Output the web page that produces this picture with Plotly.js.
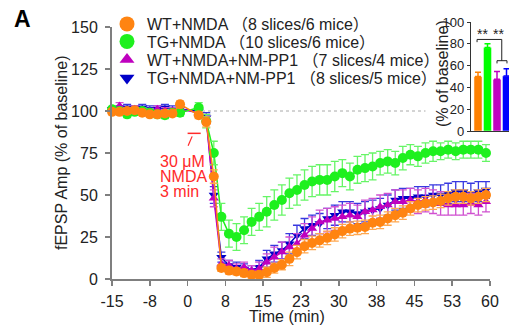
<!DOCTYPE html>
<html><head><meta charset="utf-8">
<script src="https://cdn.plot.ly/plotly-3.0.1.min.js"></script>
<style>html,body{margin:0;padding:0;background:#fff;}#chart{width:509px;height:325px;}</style>
</head><body><div id="chart"></div>
<script>
// ---- data ----
var timePts = [-15,-13.5,-12,-10.5,-9,-7.5,-6,-4.5,-3,-1.5,
  2.2,3.7,5.2,6.7,8.2,9.7,11.2,12.7,14.2,15.7,17.2,18.7,20.2,21.7,23.2,24.7,26.2,27.7,29.2,30.7,
  32.2,33.7,35.2,36.7,38.2,39.7,41.2,42.7,44.2,45.7,47.2,48.7,50.2,51.7,53.2,54.7,56.2,57.7,59.2];

var seriesNames = ['WT+NMDA （8 slices/6 mice）','TG+NMDA （10 slices/6 mice）',
  'WT+NMDA+NM-PP1 （7 slices/4 mice）','TG+NMDA+NM-PP1 （8 slices/5 mice）'];

var wtNmda = [99.5,99.5,100,100.5,99,98,98,98.5,98.5,104,
  97.5,93.5,61,6.5,5,4.5,3.5,2.5,2.5,4,6.5,8.5,12,16,19.5,21.5,23,24.5,26.5,28.5,
  30,30.5,31,33.5,34,36,38,39.5,42,44,45,45.5,46.5,48,49,49,48,49,50];
var wtNmdaErr = [1.5,1.5,1.5,1.5,1.5,1.5,1.5,1.5,1.5,2,
  2,3,4,2,2,2,2,2,2,3,3,3,4,4,4,4,4,4,4,4,4,4,4,4,4,4,4,4,4,4,4,4,4,4,4,4,4,4,4];

var tgNmda = [101,100,98,99.5,100,99,98,97.5,99,99,
  102,94,75,37,27,25,29,34,37,40,44,47,51,53,56,58,59,59,61,63,
  61,65,66,67,69,70,69,72,74,73,75,76,76,77,76,77,77,77,75];
var tgNmdaErr = [2,2,2,2,2,2,2,2,2,2,
  3,4,7,8,8,8,8,8,8,9,9,9,9,9,9,9,9,9,9,8,8,8,8,8,7,7,7,7,6,6,6,6,5,5,5,5,5,5,5];

var wtPP1 = [101,103,100,101,100,99.5,101,100,100,101,
  99,95,48,9,8,6,7,5,6,10,13,16,19,21,26,30,34,35,36,37,
  38,37,40,41,43,44,46,46,47,46,47,46,45,44,44,44,45,44,46];
var wtPP1Err = [2,2,2,2,2,2,2,2,2,2,
  2,3,5,3,3,3,3,3,4,5,6,6,6,6,7,7,7,7,7,7,7,7,7,7,7,7,7,7,7,7,7,7,7,6,6,6,6,6,6];

var tgPP1 = [101,101,102,101,102,101,101,102,101,101,
  100,96,50,13,8,7,6,5,7,12,15,17,21,26,30,32,33,36,38,40,
  40,39,40,41,42,44,47,48,48,49,49,50,50,51,52,52,51,52,53];
var tgPP1Err = [2,2,2,2,2,2,2,2,2,2,
  2,3,5,3,3,3,3,3,4,5,5,5,6,6,6,6,6,6,6,6,6,6,6,6,6,6,6,6,6,6,6,6,6,6,6,6,6,6,5];

var xTickVals = [-15,-7.5,0,7.5,15,22.5,30,37.5,45,52.5,60];
var xTickText = ['-15','-8','0','8','15','23','30','38','45','53','60'];
var yTickVals = [0,25,50,75,100,125,150];

var insetCats = [0,1,2,3];
var insetVals = [50,76.5,47.5,50.5];
var insetErr = [4,3.5,7,6.5];
var insetTicks = [0,20,40,60,80,100];

// ---- styling ----
var FONT = '"Liberation Sans", Arial, "Noto Sans CJK SC", sans-serif';
var cols = ['#ff8411','#1ef01e','#bf00bf','#0000c8'];
var errCols = ['#ffa850','#66f566','#d050d0','#3838e0'];
var barCols = ['#ff8000','#00ff00','#c000c0','#0000ff'];
var symbols = ['circle','circle','triangle-up','triangle-down'];
var sizes = [10,10,9,9];
var legSizes = [15,15,13,13];
var vals = [wtNmda,tgNmda,wtPP1,tgPP1];
var errs = [wtNmdaErr,tgNmdaErr,wtPP1Err,tgPP1Err];
var legendIds = ['legend','legend2','legend3','legend4'];
var legendRowY = [24,41.5,59.5,78];

// pixel helpers (plot paper: l=112, r=0, t=15, b=46)
var L=112, T=15, PW=397, PH=264;
function px(xp){return (xp-L)/PW;}
function py(yp){return (T+PH-yp)/PH;}

var traces = [];
[3,2,1,0].forEach(function(i){
  traces.push({x:timePts, y:vals[i], type:'scatter', mode:'lines', showlegend:false,
    line:{color:cols[i], width:1.5}, hoverinfo:'skip'});
  traces.push({x:timePts, y:vals[i], type:'scatter', mode:'markers', showlegend:false, cliponaxis:false,
    marker:{color:cols[i], symbol:symbols[i], size:sizes[i]},
    error_y:{type:'data', array:errs[i], visible:true, color:errCols[i], thickness:1.3, width:4}});
});
// legend entries (no data points of their own)
[0,1,2,3].forEach(function(i){
  traces.push({x:[null], y:[null], type:'scatter', mode:'markers', name:seriesNames[i],
    legend:legendIds[i], showlegend:true,
    marker:{color:cols[i], symbol:symbols[i], size:legSizes[i]}});
});
traces.push({x:insetCats, y:insetVals, type:'bar', xaxis:'x2', yaxis:'y2', showlegend:false,
  width:0.85, marker:{color:barCols, line:{color:'#fff', width:0.5}}});
insetCats.forEach(function(c,k){
  traces.push({x:[insetCats[k]], y:[insetVals[k]], type:'bar', xaxis:'x2', yaxis:'y2', showlegend:false,
    width:0.85, marker:{color:'rgba(0,0,0,0)'}, hoverinfo:'skip',
    error_y:{type:'data', symmetric:false, array:[insetErr[k]], arrayminus:[0], color:barCols[k], thickness:1.5, width:3}});
});

var red = '#ff2a2a';
function leg(yp){
  return {x:px(107), y:py(yp), xanchor:'left', yanchor:'middle', bgcolor:'rgba(0,0,0,0)',
    font:{size:16, color:'#222', family:FONT}, itemsizing:'trace', itemwidth:30};
}
var layout = {
  width:509, height:325, paper_bgcolor:'#fff', plot_bgcolor:'rgba(0,0,0,0)',
  margin:{l:L, r:0, t:T, b:46},
  font:{family:FONT, color:'#222', size:16},
  barmode:'overlay',
  xaxis:{domain:[0,378/397], range:[-15,60], tickvals:xTickVals, ticktext:xTickText,
    showgrid:false, zeroline:false, showline:true, linecolor:'#7f7f7f', linewidth:2,
    ticks:'outside', ticklen:5, tickwidth:1.5, tickcolor:'#7f7f7f', tickfont:{size:16, color:'#222'},
    ticklabelstandoff:2},
  yaxis:{domain:[0,252/264], range:[0,150], tickvals:yTickVals,
    showgrid:false, zeroline:false, showline:true, linecolor:'#7f7f7f', linewidth:2,
    ticks:'outside', ticklen:5, tickwidth:1.5, tickcolor:'#7f7f7f', tickfont:{size:16, color:'#222'},
    ticklabelstandoff:4},
  xaxis2:{domain:[px(471),1], range:[-0.737,3.263], anchor:'y2', showgrid:false, zeroline:false,
    showline:true, linecolor:'#333', linewidth:1.2, showticklabels:false, ticks:''},
  yaxis2:{domain:[py(131),py(22)], range:[0,100], anchor:'x2', tickvals:insetTicks, showgrid:false, zeroline:false,
    showline:true, linecolor:'#333', linewidth:1.2, ticks:'outside', ticklen:3, tickcolor:'#333',
    tickfont:{size:13, color:'#222'}},
  legend:leg(legendRowY[0]), legend2:leg(legendRowY[1]), legend3:leg(legendRowY[2]), legend4:leg(legendRowY[3]),
  shapes:[
    {type:'line', xref:'x', yref:'y', x0:-15, x1:47.2, y0:100, y1:100, layer:'below',
      line:{color:'#a8a8a8', width:1, dash:'3px,3px'}},
    {type:'line', xref:'x', yref:'y', x0:0, x1:2.6, y0:86.7, y1:86.7, line:{color:red, width:1.5}},
    {type:'line', xref:'x', yref:'y', x0:0.9, x1:0.1, y0:84.9, y1:79.3, line:{color:red, width:1.2}},
    {type:'path', xref:'x2', yref:'y2', path:'M -0.1 81.5 L -0.1 84 L 2.5 84 L 2.5 64.5', line:{color:'#222', width:1}},
    {type:'path', xref:'x2', yref:'y2', path:'M 2 62 L 2 64.5 L 3.05 64.5 L 3.05 62', line:{color:'#222', width:1}}
  ],
  annotations:[
    {text:'<b>A</b>', xref:'paper', yref:'paper', x:px(22), y:py(19), xanchor:'center', yanchor:'middle',
      showarrow:false, font:{size:23, color:'#000'}},
    {text:'Time (min)', xref:'paper', yref:'paper', x:px(286.5), y:py(316), xanchor:'center', yanchor:'middle',
      showarrow:false, font:{size:16, color:'#222'}},
    {text:'fEPSP Amp (% of baseline)', xref:'paper', yref:'paper', x:px(61), y:py(153), xanchor:'center', yanchor:'middle',
      textangle:-90, showarrow:false, font:{size:16, color:'#222'}},
    {text:'30 μM', xref:'paper', yref:'paper', x:px(158), y:py(161.5), xanchor:'left', yanchor:'middle',
      showarrow:false, font:{size:16, color:red}},
    {text:'NMDA', xref:'paper', yref:'paper', x:px(158), y:py(176.5), xanchor:'left', yanchor:'middle',
      showarrow:false, font:{size:16, color:red}},
    {text:'3 min', xref:'paper', yref:'paper', x:px(158), y:py(191.5), xanchor:'left', yanchor:'middle',
      showarrow:false, font:{size:16, color:red}},
    {text:'(% of baseline)', xref:'paper', yref:'paper', x:px(442), y:py(74), xanchor:'center', yanchor:'middle',
      textangle:-90, showarrow:false, font:{size:16, color:'#222'}},
    {text:'**', xref:'paper', yref:'paper', x:px(482.5), y:py(34), xanchor:'center', yanchor:'middle',
      showarrow:false, font:{size:14, color:'#222'}},
    {text:'**', xref:'paper', yref:'paper', x:px(498), y:py(34), xanchor:'center', yanchor:'middle',
      showarrow:false, font:{size:14, color:'#222'}}
  ]
};
Plotly.newPlot('chart', traces, layout, {displayModeBar:false, staticPlot:true});
</script></body></html>
